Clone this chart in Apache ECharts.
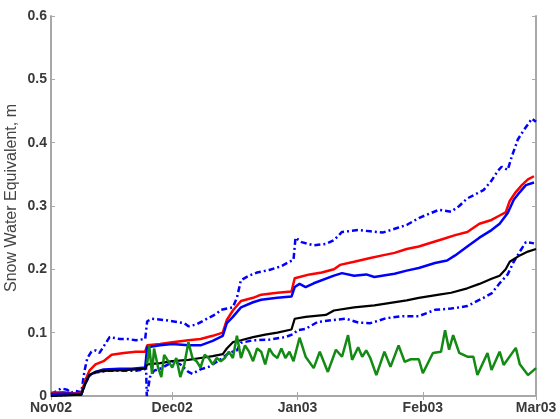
<!DOCTYPE html>
<html>
<head>
<meta charset="utf-8">
<script src="https://cdn.jsdelivr.net/npm/echarts@6/dist/echarts.min.js"></script>
<style>html,body{margin:0;padding:0;background:#fff}#c{width:560px;height:419px}</style>
</head>
<body>
<div id="c"></div>
<script>
// Day offsets from 1 Nov 2002, values in m
const xTickLabels = ['Nov02', 'Dec02', 'Jan03', 'Feb03', 'Mar03'];
const yTicks = [0, 0.1, 0.2, 0.3, 0.4, 0.5, 0.6];

const redSeries = [[0,0.005],[3,0.006],[6,0.004],[7.5,0.005],[8.5,0.025],[9.5,0.04],[11,0.05],[13,0.055],[15,0.065],[18,0.068],[21,0.07],[23.3,0.07],[23.8,0.08],[27,0.082],[30,0.085],[34,0.088],[37,0.09],[40,0.095],[42.5,0.1],[43.5,0.12],[45,0.135],[47,0.15],[50,0.155],[52,0.16],[56,0.163],[59.5,0.165],[60.3,0.186],[64,0.192],[67,0.195],[70,0.2],[71.5,0.207],[75,0.212],[79,0.218],[82,0.222],[85,0.226],[88,0.232],[91,0.236],[94,0.242],[97,0.248],[100,0.254],[103,0.259],[106,0.272],[109,0.278],[111,0.285],[112.5,0.29],[113.5,0.308],[115,0.322],[116.5,0.333],[118,0.342],[119.5,0.347]];

const blueSeries = [[0,0.003],[4,0.004],[7.5,0.003],[8.5,0.02],[9.5,0.033],[11,0.038],[13,0.042],[17,0.043],[20,0.043],[23.3,0.045],[23.8,0.077],[27,0.08],[30,0.082],[34,0.08],[37,0.08],[40,0.087],[42.5,0.095],[43.5,0.115],[45,0.125],[47,0.14],[50,0.148],[52,0.152],[56,0.155],[59.5,0.157],[60.3,0.172],[61.5,0.177],[63,0.172],[65,0.178],[70,0.19],[72,0.194],[75,0.19],[78,0.192],[80,0.188],[85,0.193],[88,0.198],[91,0.202],[95,0.21],[98,0.214],[100,0.222],[103,0.236],[106,0.25],[109,0.262],[111,0.272],[113,0.289],[114.5,0.31],[116,0.322],[117.5,0.333],[119.5,0.337]];

const upperSeries = [[0,0.003],[1.5,0.008],[2.5,0.012],[4,0.01],[5,0.005],[6,0.008],[7.5,0.006],[8.3,0.04],[9,0.06],[10,0.07],[11,0.072],[12,0.068],[14.5,0.093],[17,0.09],[19,0.09],[21,0.088],[23.3,0.09],[23.8,0.118],[25,0.122],[28,0.12],[30,0.118],[33,0.115],[34,0.11],[36,0.113],[38,0.12],[41,0.13],[42,0.136],[45,0.14],[46,0.155],[47,0.183],[49,0.19],[51,0.195],[54,0.199],[57,0.205],[59,0.212],[60,0.215],[60.5,0.25],[62,0.243],[65,0.238],[68,0.24],[70,0.246],[72,0.259],[76,0.262],[79,0.26],[82,0.258],[86,0.266],[88,0.27],[91,0.281],[96,0.294],[99,0.291],[101,0.3],[103,0.312],[107,0.325],[109,0.34],[110.5,0.355],[111.5,0.362],[113,0.357],[114,0.378],[115.5,0.405],[117,0.42],[119,0.438],[120,0.433]];

const lowerSeries = [[0,0.0],[4,0.002],[7.5,0.002],[8.5,0.02],[9.5,0.032],[11,0.037],[14,0.04],[18,0.04],[21,0.04],[23.2,0.042],[23.5,0.05],[23.7,0.0],[24.5,0.03],[25.5,0.04],[27,0.043],[29,0.05],[30,0.055],[32,0.05],[34,0.038],[35,0.035],[37,0.042],[39,0.046],[42,0.058],[44,0.068],[46,0.072],[47,0.084],[50,0.088],[54,0.089],[58,0.093],[60,0.098],[61,0.104],[63,0.106],[66,0.117],[70,0.12],[73,0.122],[76,0.116],[79,0.115],[83,0.123],[87,0.126],[91,0.126],[95,0.136],[99,0.138],[103,0.142],[107,0.155],[109,0.162],[111,0.178],[113,0.192],[114.5,0.212],[116,0.228],[117.5,0.243],[119.5,0.241]];

const blackSeries = [[0,0.0],[7.5,0.002],[8.5,0.02],[9.5,0.033],[11,0.038],[14,0.04],[18,0.041],[21,0.042],[23.3,0.043],[23.8,0.05],[27,0.052],[30,0.055],[34,0.057],[37,0.06],[40,0.063],[42.5,0.066],[43.5,0.075],[45,0.085],[47,0.088],[50,0.093],[53,0.097],[56,0.1],[59.5,0.105],[60.3,0.122],[63,0.125],[68,0.128],[70,0.135],[75,0.14],[80,0.143],[84,0.147],[88,0.151],[91,0.155],[96,0.16],[99,0.163],[103,0.17],[106,0.177],[109,0.185],[111,0.19],[112.5,0.2],[113.5,0.212],[116,0.222],[118,0.228],[120,0.232]];

const greenSeries = [[23.8,0.05],[24.3,0.08],[25,0.035],[25.5,0.075],[26.5,0.045],[27.3,0.03],[28,0.065],[29,0.055],[30,0.045],[31,0.06],[32,0.03],[33,0.05],[34,0.085],[35,0.06],[36,0.055],[37,0.045],[38,0.065],[39,0.06],[40,0.05],[41,0.06],[42,0.055],[43,0.06],[44,0.07],[45,0.06],[46,0.095],[47,0.06],[48,0.08],[49,0.07],[50,0.055],[51,0.075],[52,0.07],[53,0.05],[54,0.075],[55,0.065],[56,0.06],[57,0.075],[58,0.06],[59,0.07],[60,0.055],[61.5,0.092],[63,0.062],[65,0.044],[66.5,0.07],[68.5,0.038],[70.5,0.073],[72,0.062],[73.5,0.096],[74.5,0.057],[76,0.077],[77,0.062],[78,0.072],[79,0.06],[80.5,0.033],[82.5,0.07],[84,0.046],[86,0.08],[87.5,0.054],[89,0.058],[91,0.058],[92,0.036],[94.5,0.068],[96.5,0.07],[97.5,0.104],[98.5,0.073],[99.5,0.096],[101,0.068],[103,0.062],[104.5,0.062],[105.5,0.033],[108,0.068],[109,0.041],[111,0.07],[112,0.049],[115,0.076],[116,0.05],[118,0.033],[120,0.044]];

const DAY = 86400000;
const base = new Date(2002, 10, 1).getTime();
const tMin = base;
const tMax = new Date(2003, 2, 1).getTime();
const toTime = arr => arr.map(p => [base + p[0] * DAY, p[1]]);

function xLabel(v) {
  const d = new Date(v);
  const idx = (d.getFullYear() - 2002) * 12 + d.getMonth() - 10;
  return (d.getDate() === 1 && xTickLabels[idx]) ? xTickLabels[idx] : '';
}

const axisColor = '#a8a8a8';
const labelStyle = { color: '#3a3a3a', fontFamily: 'Liberation Sans, Arial, sans-serif', fontSize: 14, fontWeight: 'bold' };
const dashDot = [6, 3, 2, 3];

const chart = echarts.init(document.getElementById('c'), null, { renderer: 'canvas' });
chart.setOption({
  animation: false,
  backgroundColor: '#fff',
  grid: { left: 51, right: 24, top: 16, bottom: 23, containLabel: false, outerBoundsMode: 'none' },
  xAxis: [{
    type: 'time', min: tMin, max: tMax, minInterval: 28 * DAY, splitNumber: 4,
    axisLine: { show: true, lineStyle: { color: axisColor, width: 2 } },
    axisTick: { show: true, inside: true, length: 4, lineStyle: { color: axisColor } },
    splitLine: { show: false },
    axisLabel: Object.assign({ margin: 5, formatter: xLabel, hideOverlap: false, showMinLabel: true, showMaxLabel: true, alignMinLabel: 'center', alignMaxLabel: 'center' }, labelStyle)
  }, {
    type: 'time', min: tMin, max: tMax, minInterval: 28 * DAY, splitNumber: 4, position: 'top',
    axisLine: { show: true, lineStyle: { color: axisColor, width: 2 } },
    axisTick: { show: true, inside: true, length: 4, lineStyle: { color: axisColor } },
    splitLine: { show: false },
    axisLabel: { show: false }
  }],
  yAxis: [{
    type: 'value', min: yTicks[0], max: yTicks[yTicks.length - 1], interval: 0.1,
    name: 'Snow Water Equivalent, m', nameLocation: 'middle', nameGap: 31, nameMoveOverlap: false,
    nameTextStyle: { color: '#444', fontFamily: 'Liberation Sans, Arial, sans-serif', fontSize: 16, padding: [0, 0, 0, 16] },
    axisLine: { show: true, lineStyle: { color: axisColor, width: 2 } },
    axisTick: { show: true, inside: true, length: 4, lineStyle: { color: axisColor } },
    splitLine: { show: false },
    axisLabel: Object.assign({ margin: 4, formatter: v => (Math.round(v * 10) / 10).toString() }, labelStyle)
  }, {
    type: 'value', min: yTicks[0], max: yTicks[yTicks.length - 1], interval: 0.1, position: 'right',
    axisLine: { show: true, lineStyle: { color: axisColor, width: 2 } },
    axisTick: { show: true, inside: true, length: 4, lineStyle: { color: axisColor } },
    splitLine: { show: false },
    axisLabel: { show: false }
  }],
  series: [
    { name: 'upper', type: 'line', data: toTime(upperSeries), showSymbol: false, symbol: 'none', lineStyle: { color: '#0000ff', width: 2.5, type: dashDot } },
    { name: 'lower', type: 'line', data: toTime(lowerSeries), showSymbol: false, symbol: 'none', lineStyle: { color: '#0000ff', width: 2.5, type: dashDot } },
    { name: 'red', type: 'line', data: toTime(redSeries), showSymbol: false, symbol: 'none', lineStyle: { color: '#ff0000', width: 2.5 } },
    { name: 'blue', type: 'line', data: toTime(blueSeries), showSymbol: false, symbol: 'none', lineStyle: { color: '#0000ff', width: 2.5 } },
    { name: 'black', type: 'line', data: toTime(blackSeries), showSymbol: false, symbol: 'none', lineStyle: { color: '#000000', width: 2.2 } },
    { name: 'green', type: 'line', data: toTime(greenSeries), showSymbol: false, symbol: 'none', lineStyle: { color: '#138a13', width: 2.5 } }
  ]
});
</script>
</body>
</html>
